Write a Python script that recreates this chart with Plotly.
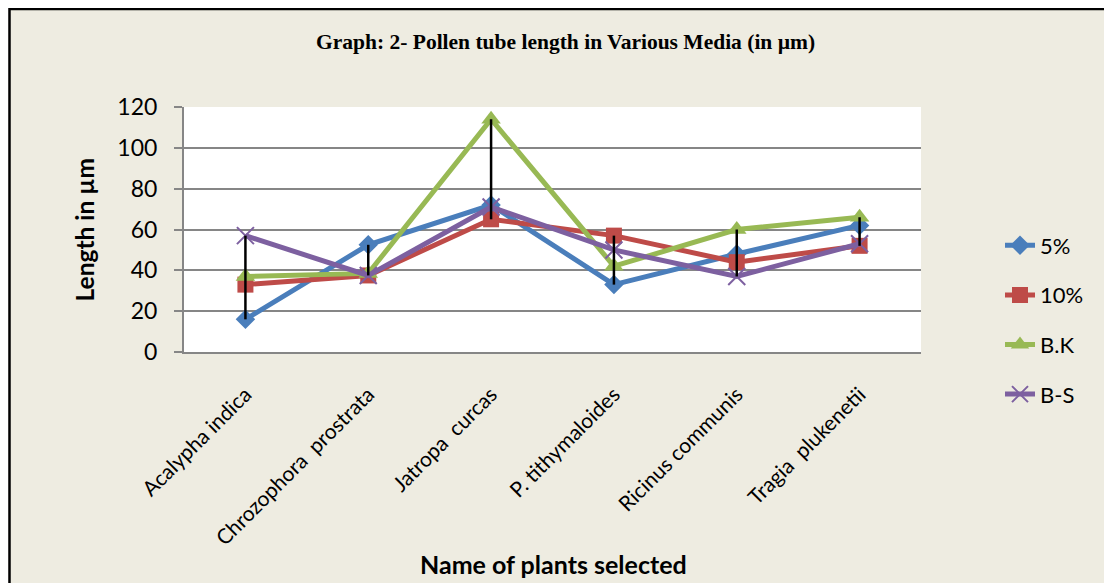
import plotly.graph_objects as go

# ---- data ----
plants = ["Acalypha indica", "Chrozophora  prostrata", "Jatropa  curcas",
          "P. tithymaloides", "Ricinus communis", "Tragia  plukenetii"]
s5 = [16, 52.5, 72, 33, 48, 62]
s10 = [33, 37.5, 65, 57, 44, 52]
sBK = [37, 38.5, 114, 42, 60, 66]
sBS = [57, 37.5, 71, 50, 37, 53]
y_ticks = [0, 20, 40, 60, 80, 100, 120]

series = [("5%", s5, "#4A7EBB", "diamond", 15),
          ("10%", s10, "#BE4B48", "square", 16),
          ("B.K", sBK, "#98B954", "triangle-up", 17),
          ("B-S", sBS, "#7D60A0", "x-thin", 17)]

OFF = 8  # page body margin
PW, PH = 1112, 583
W, H = PW - OFF, PH - OFF
# plot area in page pixels
L, R, T, B = 184, 921, 107, 352
pw, ph = R - L, B - T

def px(x):
    return (x - L) / pw

def py(y):
    return (B - y) / ph

fig = go.Figure()
for name, vals, col, sym, sz in series:
    marker = dict(symbol=sym, size=sz, color=col)
    if sym == "x-thin":
        marker["line"] = dict(color=col, width=2)
    fig.add_trace(go.Scatter(x=plants, y=vals, name=name, mode="lines+markers",
                             line=dict(color=col, width=5), marker=marker,
                             legendgroup=name))

# high-low lines
hx, hy = [], []
for j, p in enumerate(plants):
    vals = [s[j] for s in (s5, s10, sBK, sBS)]
    hx += [p, p, None]
    hy += [max(vals), min(vals), None]
fig.add_trace(go.Scatter(x=hx, y=hy, mode="lines", line=dict(color="black", width=2.5),
                         showlegend=False, hoverinfo="skip"))

font_main = "Lato, 'Open Sans', sans-serif"
shapes = [
    dict(type="line", xref="paper", yref="paper", x0=px(9), x1=px(PW + 5), y0=py(9), y1=py(9),
         line=dict(color="black", width=2.5)),
    dict(type="line", xref="paper", yref="paper", x0=px(9.5), x1=px(9.5), y0=py(PH + 5), y1=py(8),
         line=dict(color="black", width=2.5)),
]

fig.update_layout(
    width=W, height=H,
    margin=dict(l=L - OFF, r=PW - R, t=T - OFF, b=PH - B, pad=0),
    paper_bgcolor="#EEECE1", plot_bgcolor="white",
    shapes=shapes,
    showlegend=True,
    legend=dict(x=px(1000), xanchor="left", y=py(320), yanchor="middle",
                font=dict(family=font_main, size=22, color="black"),
                bgcolor="rgba(0,0,0,0)", tracegroupgap=18),
    annotations=[
        dict(text="<b>Graph: 2- Pollen tube length in Various Media (in µm)</b>",
             xref="paper", yref="paper", x=px(565), y=py(42), xanchor="center", yanchor="middle",
             showarrow=False,
             font=dict(family="'Liberation Serif', 'Times New Roman', serif", size=21.5, color="black")),
        dict(text="<b>Length in µm</b>", xref="paper", yref="paper", x=px(84), y=py(229.5),
             xanchor="center", yanchor="middle", showarrow=False, textangle=-90,
             font=dict(family=font_main, size=24.5, color="black")),
        dict(text="<b>Name of plants selected</b>", xref="paper", yref="paper", x=px(553), y=py(564),
             xanchor="center", yanchor="middle",
             showarrow=False, font=dict(family=font_main, size=25, color="black")),
    ],
    xaxis=dict(type="category", range=[-0.5, len(plants) - 0.5], autorange=False,
               showgrid=False, showline=True, linecolor="#868686", linewidth=2,
               tickangle=-45, ticks="", ticklabelstandoff=20,
               tickfont=dict(family=font_main, size=21, color="black"), fixedrange=True),
    yaxis=dict(range=[0, 120], autorange=False, tickvals=y_ticks, showgrid=True,
               gridcolor="#868686", gridwidth=2,
               showline=True, linecolor="#868686", linewidth=2, ticks="outside", ticklen=8,
               tickcolor="#868686", tickwidth=2, zeroline=False, ticklabelstandoff=12,
               tickfont=dict(family=font_main, size=23, color="black")),
)

fig.write_html("out.html")
